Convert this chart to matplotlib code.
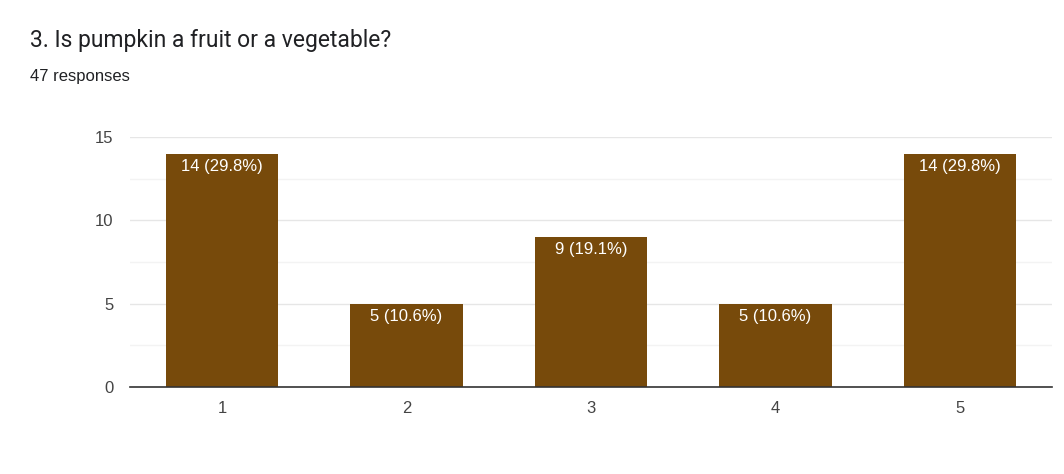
import numpy as np
import matplotlib.pyplot as plt

# Survey data
categories = ["1", "2", "3", "4", "5"]
counts = [14, 5, 9, 5, 14]
total = 47
title = "3. Is pumpkin a fruit or a vegetable?"
subtitle = "47 responses"

plt.rcParams['font.family'] = ['Liberation Sans', 'DejaVu Sans']

fig = plt.figure(figsize=(10.64, 4.74), dpi=100)
ax = fig.add_axes([0.1222, 0.1835, 0.8665, 0.5275])

x = np.arange(len(categories))
bars = ax.bar(x, counts, width=0.61, color='#774a0b', zorder=3)

for xi, c in zip(x, counts):
    ax.text(xi, c - 0.3, f"{c} ({c / total * 100:.1f}%)", ha='center', va='top',
            color='white', fontsize=12, zorder=4)

ax.set_xlim(-0.5, len(categories) - 0.5)
ax.set_ylim(0, 15)
ax.set_yticks([0, 5, 10, 15])
ax.set_yticks([2.5, 7.5, 12.5], minor=True)
ax.set_xticks(x)
ax.set_xticklabels(categories)

ax.grid(axis='y', which='major', color='#e6e6e6', linewidth=1, zorder=0)
ax.grid(axis='y', which='minor', color='#f3f3f3', linewidth=1, zorder=0)

for s in ['top', 'right', 'left']:
    ax.spines[s].set_visible(False)
ax.spines['bottom'].set_color('#333333')
ax.spines['bottom'].set_linewidth(1.2)
ax.spines['bottom'].set_zorder(5)

ax.tick_params(axis='both', which='both', length=0, labelsize=12, labelcolor='#444444')
ax.tick_params(axis='y', pad=12)
ax.tick_params(axis='x', pad=10)

fig.text(30 / 1064, 1 - 40 / 474, title, fontsize=16.5, color='#202124', va='center',
         family=['Roboto', 'DejaVu Sans'])
fig.text(30 / 1064, 1 - 76 / 474, subtitle, fontsize=12, color='#202124', va='center')

fig.savefig('out.png', dpi=100, facecolor='white')
